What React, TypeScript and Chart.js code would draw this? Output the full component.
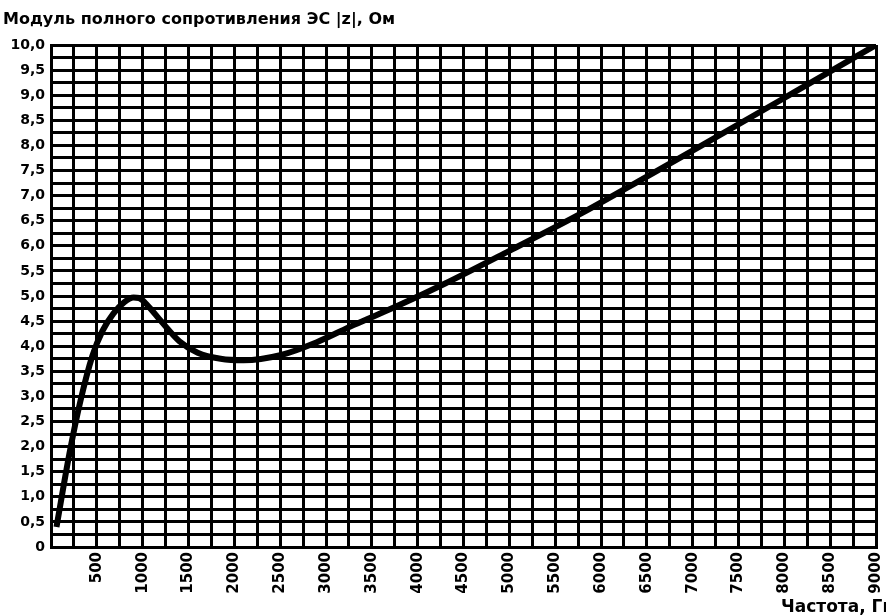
import React, { useEffect, useRef } from "react";
import { Chart, registerables } from "chart.js";

Chart.register(...registerables);

const titleY = "Модуль полного сопротивления ЭС |z|, Ом";
const titleX = "Частота, Гц";

const freq = [60, 200, 320, 450, 560, 680, 800, 900, 960, 1050, 1200, 1400, 1600, 1850, 2100, 2500, 2900, 3300, 3800, 4300, 5000, 5800, 6500, 7100, 8100, 9000];
const impedance = [0.4, 1.85, 2.9, 3.8, 4.3, 4.65, 4.88, 4.97, 4.96, 4.82, 4.5, 4.1, 3.87, 3.75, 3.72, 3.82, 4.08, 4.42, 4.82, 5.25, 5.9, 6.66, 7.38, 8.0, 9.05, 10.0];

const xMin = 0;
const xMax = 9000;
const xGridStep = 250;
const xLabelStep = 500;
const yMin = 0;
const yMax = 10;
const yGridStep = 0.25;
const yLabelStep = 0.5;

const FONT = "'DejaVu Sans', 'Liberation Sans', sans-serif";

export default function App() {
  const ref = useRef<HTMLCanvasElement | null>(null);

  useEffect(() => {
    document.body.style.margin = "0";
    const canvas = ref.current;
    if (!canvas) return;

    const textPlugin = {
      id: "texts",
      afterDraw(chart: any) {
        const ctx = chart.ctx;
        ctx.save();
        ctx.fillStyle = "#000";
        ctx.font = `bold 16px ${FONT}`;
        ctx.textAlign = "left";
        ctx.textBaseline = "alphabetic";
        ctx.fillText(titleY, 3, 24);
        ctx.font = `bold 17px ${FONT}`;
        ctx.textAlign = "right";
        ctx.fillText(titleX, 895, 612);
        ctx.restore();
      },
    };

    const chart = new Chart(canvas, {
      type: "line",
      data: {
        datasets: [
          {
            data: freq.map((f, i) => ({ x: f, y: impedance[i] })),
            borderColor: "#000",
            borderWidth: 6,
            pointRadius: 0,
            cubicInterpolationMode: "monotone",
            fill: false,
          },
        ],
      },
      options: {
        animation: false,
        responsive: false,
        layout: { padding: { top: 45, right: 0, left: 0, bottom: 0 } },
        plugins: { legend: { display: false }, tooltip: { enabled: false }, title: { display: false } },
        scales: {
          x: {
            type: "linear",
            min: xMin,
            max: xMax,
            afterFit(scale: any) {
              scale.height = 69;
              scale.paddingRight = 10;
            },
            grid: { color: "#000", lineWidth: 3, drawTicks: false },
            border: { color: "#000", width: 3 },
            ticks: {
              stepSize: xGridStep,
              autoSkip: false,
              minRotation: 90,
              maxRotation: 90,
              padding: 5,
              color: "#000",
              font: { family: FONT, weight: "bold", size: 15 },
              callback: (v: any) => {
                const n = Number(v);
                return n > 0 && n % xLabelStep === 0 ? String(n) : "";
              },
            },
          },
          y: {
            type: "linear",
            min: yMin,
            max: yMax,
            afterFit(scale: any) {
              scale.width = 51;
            },
            grid: { color: "#000", lineWidth: 3, drawTicks: false },
            border: { color: "#000", width: 3 },
            ticks: {
              stepSize: yGridStep,
              autoSkip: false,
              padding: 6,
              color: "#000",
              font: { family: FONT, weight: "bold", size: 14 },
              callback: (v: any) => {
                const n = Number(v);
                if (Math.abs(n / yLabelStep - Math.round(n / yLabelStep)) > 1e-6) return "";
                if (n === 0) return "0";
                return n.toFixed(1).replace(".", ",");
              },
            },
          },
        },
      },
      plugins: [textPlugin],
    } as any);

    return () => chart.destroy();
  }, []);

  return (
    <div style={{ width: 886, height: 616, background: "#fff" }}>
      <canvas ref={ref} width={886} height={616} style={{ display: "block" }} />
    </div>
  );
}
